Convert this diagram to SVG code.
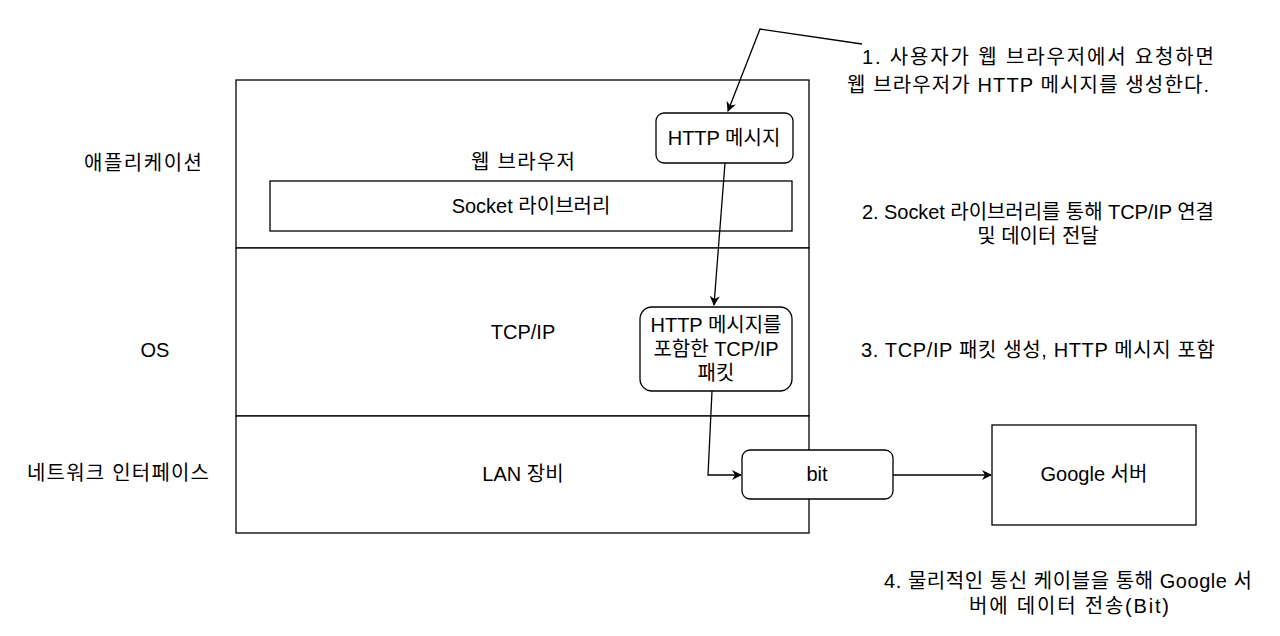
<svg xmlns="http://www.w3.org/2000/svg" width="1280" height="636" viewBox="0 0 1280 636">
<style>
text{font-family:"Liberation Sans","Noto Sans CJK KR",sans-serif;font-size:20px;fill:#000;text-anchor:middle;dominant-baseline:central}
.b{fill:#fff;stroke:#000;stroke-width:1.3}
.c{fill:none;stroke:#000;stroke-width:1.3}
</style>
<defs>
<marker id="a" viewBox="0 0 10 10" refX="9" refY="5" markerWidth="10" markerHeight="10" markerUnits="userSpaceOnUse" orient="auto">
<path d="M0,0 L10,5 L0,10 L3,5 Z" fill="#000"/>
</marker>
</defs>
<rect width="1280" height="636" fill="#fff"/>
<g id="layers">
<rect class="b" x="236" y="80" width="573" height="168"/>
<rect class="b" x="236" y="248" width="573" height="168"/>
<rect class="b" x="236" y="416" width="573" height="117"/>
<text x="523" y="162" textLength="104">웹 브라우저</text>
<text x="523" y="332">TCP/IP</text>
<text x="523" y="474">LAN 장비</text>
</g>
<g id="labels">
<text x="143" y="163" textLength="118">애플리케이션</text>
<text x="155" y="350">OS</text>
<text x="118" y="473" textLength="182">네트워크 인터페이스</text>
<text x="1038" y="57" textLength="352">1. 사용자가 웹 브라우저에서 요청하면</text>
<text x="1028" y="85" textLength="362">웹 브라우저가 HTTP 메시지를 생성한다.</text>
<text x="1038" y="212" textLength="352">2. Socket 라이브러리를 통해 TCP/IP 연결</text>
<text x="1038" y="236">및 데이터 전달</text>
<text x="1038" y="350" textLength="354">3. TCP/IP 패킷 생성, HTTP 메시지 포함</text>
<text x="1068" y="581" textLength="368">4. 물리적인 통신 케이블을 통해 Google 서</text>
<text x="1069" y="606" textLength="200">버에 데이터 전송(Bit)</text>
</g>
<g id="socket">
<rect class="b" x="270" y="181" width="522" height="50"/>
<text x="531" y="206">Socket 라이브러리</text>
</g>
<g id="http">
<rect class="b" x="656" y="113" width="137" height="50" rx="8"/>
<text x="724" y="138">HTTP 메시지</text>
</g>
<g id="packet">
<rect class="b" x="640" y="307" width="152" height="84" rx="12"/>
<text x="716" y="325">HTTP 메시지를</text>
<text x="716" y="349">포함한 TCP/IP</text>
<text x="716" y="373">패킷</text>
</g>
<g id="bit">
<rect class="b" x="742" y="450" width="151" height="49" rx="8"/>
<text x="817" y="474">bit</text>
</g>
<g id="google">
<rect class="b" x="992" y="425" width="204" height="100"/>
<text x="1094" y="474">Google 서버</text>
</g>
<g id="connectors">
<path class="c" d="M862,44 L760,29 L728,111" marker-end="url(#a)"/>
<path class="c" d="M725,163 L714,305" marker-end="url(#a)"/>
<path class="c" d="M712,391 L708,475 L741,475" marker-end="url(#a)"/>
<path class="c" d="M893,475 L991,475" marker-end="url(#a)"/>
</g>
</svg>
